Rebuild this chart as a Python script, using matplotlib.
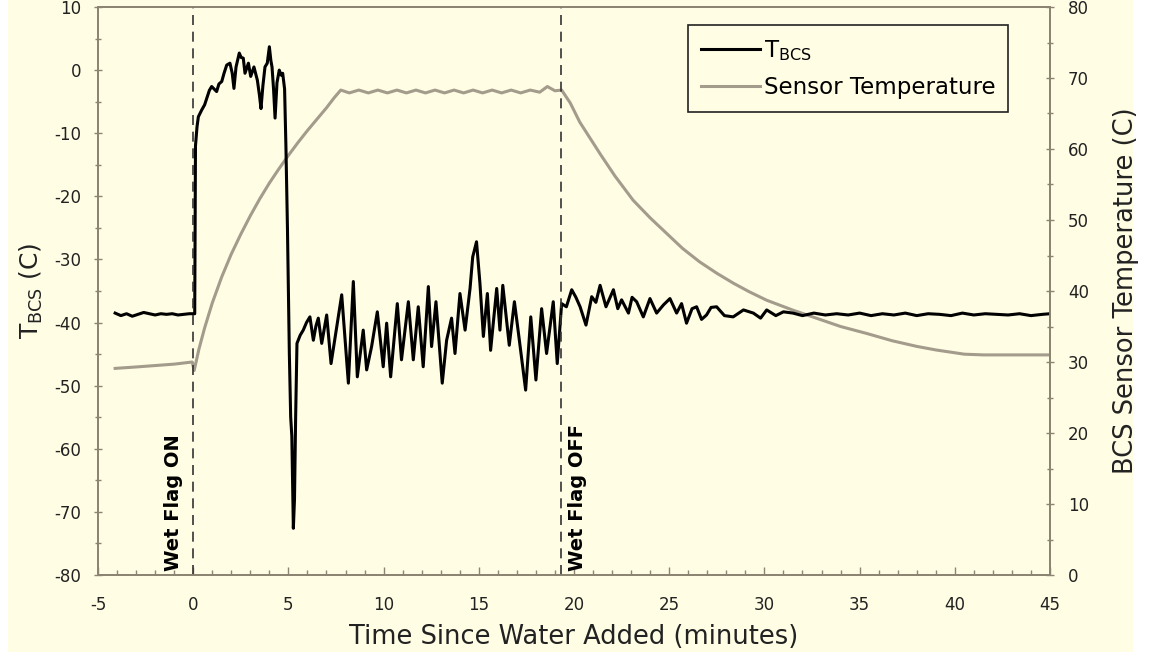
import matplotlib
matplotlib.use("Agg")
import matplotlib.pyplot as plt
from matplotlib.patches import Rectangle
from matplotlib.ticker import MultipleLocator

plt.rcParams['axes.unicode_minus'] = False

# T_BCS (left axis)
t_bcs = [-4.1, -3.8, -3.5, -3.2, -2.9, -2.6, -2.3, -2.0, -1.7, -1.4, -1.1, -0.8, -0.5, -0.2, 0.08,
         0.12, 0.2, 0.27, 0.45, 0.6, 0.71, 0.85, 0.97, 1.1, 1.23, 1.35, 1.5, 1.62, 1.76, 1.93,
         2.05, 2.14, 2.25, 2.42, 2.52, 2.63, 2.72, 2.9, 3.02, 3.19, 3.37, 3.48, 3.56, 3.66,
         3.77, 3.89, 4.0, 4.08, 4.14, 4.22, 4.3, 4.4, 4.52, 4.62, 4.7, 4.8, 4.87, 4.95, 5.05,
         5.12, 5.18, 5.26, 5.32, 5.38, 5.45,
         5.62, 5.78, 5.95, 6.13, 6.31, 6.45, 6.57, 6.75, 7.01, 7.24, 7.54, 7.8, 8.15, 8.41,
         8.62, 8.93, 9.11, 9.37, 9.67, 9.98, 10.16, 10.37, 10.72, 10.94, 11.3, 11.56, 11.82,
         12.08, 12.35, 12.52, 12.75, 13.08, 13.31, 13.57, 13.75, 14.01, 14.28, 14.54, 14.68,
         14.88, 15.06, 15.24, 15.45, 15.62, 15.94, 16.11, 16.26, 16.6, 16.87, 17.13, 17.46,
         17.73, 18.0, 18.3, 18.56, 18.91, 19.12, 19.35, 19.6, 19.88, 20.1, 20.32, 20.63,
         20.93, 21.15, 21.37, 21.68, 22.07, 22.3, 22.5, 22.86, 23.05, 23.29, 23.64, 23.99,
         24.34, 24.7, 25.04, 25.39, 25.65, 25.91, 26.2, 26.44, 26.7, 26.96, 27.2, 27.49,
         27.9, 28.36, 28.9, 29.42, 29.8, 30.12, 30.6, 31.0, 31.5, 32.0, 32.6, 33.2, 33.8,
         34.4, 35.0, 35.6, 36.2, 36.8, 37.4, 38.0, 38.6, 39.2, 39.8, 40.4, 41.0, 41.6, 42.2,
         42.8, 43.4, 44.0, 44.6, 45.0]
v_bcs = [-38.5, -38.9, -38.6, -39.0, -38.7, -38.4, -38.6, -38.8, -38.6, -38.7, -38.6, -38.8, -38.7, -38.6, -38.6,
         -12.0, -9.0, -7.4, -6.3, -5.5, -4.5, -3.2, -2.6, -3.0, -3.4, -2.2, -1.8, -0.5, 0.8, 1.1,
         -0.5, -2.9, 0.5, 2.7, 2.0, 1.9, -0.5, 1.1, -1.0, 0.5, -1.6, -4.0, -6.1, -2.5,
         0.5, 1.1, 3.7, 1.5, 0.5, -3.0, -7.6, -2.0, 0.0, -0.8, -0.5, -3.0, -12.1, -25.0, -45.0,
         -55.0, -58.0, -72.6, -68.0, -55.0, -43.3,
         -42.0, -41.2, -40.0, -39.1, -42.8, -40.5, -39.3, -43.3, -38.8, -46.5, -40.7, -35.6, -49.6, -33.5,
         -48.6, -41.2, -47.5, -43.8, -38.3, -47.0, -40.1, -48.6, -37.0, -45.9, -36.7, -45.9, -37.5,
         -47.0, -34.3, -43.8, -36.7, -49.6, -42.8, -39.3, -44.9, -35.4, -41.2, -34.6, -29.6,
         -27.2, -33.8, -42.2, -35.4, -44.4, -34.6, -41.2, -34.1, -43.6, -36.7, -42.8, -50.7,
         -39.1, -49.1, -37.8, -44.9, -36.7, -46.5, -37.0, -37.5, -34.8, -36.0, -37.5, -40.4,
         -35.9, -36.8, -34.1, -37.5, -34.8, -37.8, -36.4, -38.5, -36.0, -36.7, -39.1, -36.2,
         -38.5, -37.2, -36.2, -38.5, -37.0, -40.1, -37.8, -37.5, -39.5, -38.8, -37.6, -37.5,
         -38.9, -39.1, -38.0, -38.5, -39.3, -38.0, -38.9, -38.3, -38.5, -38.9, -38.5, -38.8, -38.6,
         -38.8, -38.5, -38.9, -38.6, -38.8, -38.5, -38.9, -38.6, -38.7, -38.9, -38.5, -38.8, -38.6, -38.7,
         -38.8, -38.6, -38.9, -38.7, -38.6]

# BCS sensor temperature (right axis)
t_sensor = [-4.1, -3.0, -2.0, -1.0, -0.05, 0.05, 0.3, 0.6, 1.0, 1.5, 2.0, 2.5, 3.0, 3.5, 4.0,
            4.5, 5.0, 5.5, 6.0, 6.5, 7.0, 7.4, 7.75, 8.2, 8.7, 9.2, 9.7, 10.2, 10.7, 11.2,
            11.7, 12.2, 12.7, 13.2, 13.7, 14.2, 14.7, 15.2, 15.7, 16.2, 16.7, 17.2, 17.7,
            18.2, 18.6, 19.0, 19.35, 19.8, 20.3, 20.85, 21.4, 22.15, 23.1, 24.0, 24.87, 25.7,
            26.6, 27.5, 28.37, 29.2, 30.12, 31.5, 32.7, 34.0, 35.4, 36.7, 38.0, 39.0, 39.75,
            40.5, 41.5, 43.0, 45.0]
v_sensor = [29.1, 29.3, 29.5, 29.7, 30.0, 28.8, 31.8, 34.8, 38.3, 42.0, 45.2, 48.0, 50.6, 53.0, 55.2,
            57.2, 59.1, 60.9, 62.6, 64.2, 65.8, 67.2, 68.3, 67.9, 68.3, 67.9, 68.3, 67.9, 68.3, 67.9,
            68.3, 67.9, 68.3, 67.9, 68.3, 67.9, 68.3, 67.9, 68.3, 67.9, 68.3, 67.9, 68.3,
            68.0, 68.8, 68.2, 68.3, 66.5, 63.8, 61.5, 59.2, 56.2, 52.8, 50.3, 48.1, 46.0,
            44.1, 42.5, 41.1, 39.9, 38.7, 37.3, 36.2, 35.0, 34.0, 33.0, 32.2, 31.7, 31.4,
            31.1, 31.0, 31.0, 31.0]

flag_on = 0.0
flag_off = 19.3

bg = '#fffde3'
spine_col = '#8b8472'
gray_line = '#a39b8b'
text_col = '#222222'

fig = plt.figure(figsize=(11.54, 6.58), dpi=100)
fig.patch.set_facecolor('white')
fig.patches.append(Rectangle((8 / 1154, 1 - 652 / 658), 1125 / 1154, 652 / 658,
                             transform=fig.transFigure, facecolor=bg, edgecolor='none', zorder=-10))

ax = fig.add_axes([98 / 1154, 1 - 575 / 658, 952 / 1154, 568 / 658])
ax2 = ax.twinx()
ax2.set_facecolor(bg)
ax2.set_zorder(1)
ax.set_zorder(2)
ax.patch.set_visible(False)

l2, = ax2.plot(t_sensor, v_sensor, color=gray_line, lw=2.2, label='Sensor Temperature')
l1, = ax.plot(t_bcs, v_bcs, color='black', lw=2.2, label=r'T$_{\mathregular{BCS}}$')

for xv in (flag_on, flag_off):
    ax.axvline(xv, color='#333333', lw=1.2, linestyle=(0, (6, 4)))

ax.text(-1.05, -79.4, 'Wet Flag ON', rotation=90, ha='center', va='bottom',
        fontsize=14, fontweight='bold', color='black')
ax.text(20.2, -79.4, 'Wet Flag OFF', rotation=90, ha='center', va='bottom',
        fontsize=14, fontweight='bold', color='black')

ax.set_xlim(-5, 45)
ax.set_ylim(-80, 10)
ax2.set_ylim(0, 80)

ax.xaxis.set_major_locator(MultipleLocator(5))
ax.xaxis.set_minor_locator(MultipleLocator(1))
ax.yaxis.set_major_locator(MultipleLocator(10))
ax.yaxis.set_minor_locator(MultipleLocator(5))
ax2.yaxis.set_major_locator(MultipleLocator(10))
ax2.yaxis.set_minor_locator(MultipleLocator(5))

for a in (ax, ax2):
    for s in a.spines.values():
        s.set_color(spine_col)
        s.set_linewidth(1.3)

ax.tick_params(axis='x', which='major', direction='in', length=6, width=1, color=spine_col,
               labelsize=12, labelcolor=text_col, pad=15, top=False)
ax.tick_params(axis='x', which='minor', direction='in', length=3.5, width=1, color=spine_col, top=False)
ax.tick_params(axis='y', which='major', direction='inout', length=6, width=1, color=spine_col,
               labelsize=12, labelcolor=text_col, pad=9)
ax.tick_params(axis='y', which='minor', direction='inout', length=4, width=1, color=spine_col)
ax2.tick_params(axis='y', which='major', direction='inout', length=6, width=1, color=spine_col,
                labelsize=12, labelcolor=text_col, pad=10)
ax2.tick_params(axis='y', which='minor', direction='inout', length=4, width=1, color=spine_col)

ax.set_xlabel('Time Since Water Added (minutes)', fontsize=18.5, color=text_col, labelpad=7)
ax.set_ylabel(r'T$_{\mathregular{BCS}}$ (C)', fontsize=18, color=text_col, labelpad=7)
ax2.set_ylabel('BCS Sensor Temperature (C)', fontsize=18.5, color=text_col, labelpad=17)

leg = ax.legend(handles=[l1, l2], loc='upper right', bbox_to_anchor=(0.956, 0.968),
                borderaxespad=0, fontsize=16.5, handlelength=2.6, handletextpad=0.15,
                frameon=True, fancybox=False, facecolor=bg, framealpha=1,
                edgecolor='#222222', borderpad=0.55, labelspacing=0.6)
leg.get_frame().set_linewidth(1.2)

fig.savefig('out.png', dpi=100, facecolor=fig.get_facecolor())
